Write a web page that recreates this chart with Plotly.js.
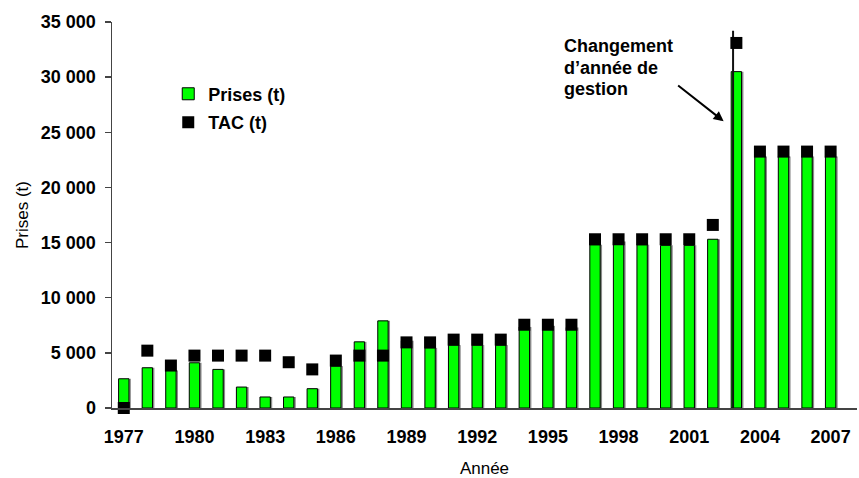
<!DOCTYPE html>
<html>
<head>
<meta charset="utf-8">
<script src="https://cdn.plot.ly/plotly-3.0.1.min.js"></script>
<style>html,body{margin:0;padding:0;background:#fff}#chart{width:859px;height:478px}</style>
</head>
<body>
<div id="chart"></div>
<script>
const years = [1977,1978,1979,1980,1981,1982,1983,1984,1985,1986,1987,1988,1989,1990,1991,1992,1993,1994,1995,1996,1997,1998,1999,2000,2001,2002,2003,2004,2005,2006,2007];
const prises = [2650,3650,3400,4100,3500,1900,1000,1000,1750,3800,6000,7900,6100,5450,5700,5700,5700,7350,7450,7300,14800,15100,14800,14750,14750,15300,30500,22800,22800,22800,22800];
const tac = [0,5200,3850,4750,4750,4750,4750,4150,3500,4300,4750,4750,5950,5950,6200,6200,6200,7550,7550,7550,15300,15300,15300,15300,15300,16600,33100,23250,23250,23250,23250];
const labelYears = [1977,1980,1983,1986,1989,1992,1995,1998,2001,2004,2007];
const changeYear = [2002.86, 2002.86];
const changeLevel = [0, 34200];
const seriesNames = ['Prises (t)', 'TAC (t)'];
const noteLines = ['Changement', 'd\u2019ann\u00e9e de', 'gestion'];
const noteLevels = [32824, 30856, 28889];

const FONT = 'Liberation Sans, Arial, sans-serif';
const xRange = [1976.5, 2008.12];
const yRange = [0, 35000];
const boundaries = years.map(y => y - 0.5).concat([years[years.length-1] + 0.5]);

const traces = [
  { type:'bar', x: years, y: prises, width: 0.44, offset: -0.14,
    marker:{color:'#8a8a8a', line:{width:0}}, showlegend:false, hoverinfo:'skip' },
  { type:'bar', x: years, y: prises, width: 0.44, offset: -0.22, name: seriesNames[0],
    legendgroup:'a', marker:{color:'#00ff00', line:{color:'#000', width:1}} },
  { type:'scatter', mode:'lines', x: changeYear, y: changeLevel, showlegend:false,
    line:{color:'#111', width:2}, hoverinfo:'skip' },
  { type:'scatter', mode:'markers', x: years, y: tac, name: seriesNames[1], legendgroup:'b',
    marker:{symbol:'square', size:12, color:'#000'}, cliponaxis:false }
];

const axisColor = '#444';
const noteFont = {family:FONT, size:18, weight:'bold', color:'#000'};
const annotations = noteLines.map((t, i) => ({
  x:1995.6, y:noteLevels[i], xref:'x', yref:'y', xanchor:'left', yanchor:'middle', align:'left',
  showarrow:false, text:t, font:noteFont
}));
annotations.push({x:2002.46, y:26000, xref:'x', yref:'y', ax:-47, ay:-37, axref:'pixel', ayref:'pixel', text:'',
     showarrow:true, arrowhead:2, arrowsize:1, arrowwidth:2, arrowcolor:'#000'});

const layout = {
  width: 859, height: 478,
  margin: {l:112, r:2, t:22, b:70},
  paper_bgcolor:'#fff', plot_bgcolor:'#fff',
  separators: ', ',
  barmode:'overlay',
  showlegend:true,
  font:{family:FONT, color:'#000'},
  legend:{x:0.0755, y:0.777, xanchor:'left', yanchor:'middle', traceorder:'grouped', tracegroupgap:2,
          font:{family:FONT, size:18, weight:'bold', color:'#000'}, bgcolor:'rgba(0,0,0,0)', itemwidth:30},
  xaxis:{range:xRange, tickmode:'array', tickvals:labelYears, ticktext:labelYears.map(String),
         ticks:'', showline:true, linecolor:axisColor, linewidth:1.5, showgrid:false, zeroline:false,
         tickfont:{family:FONT, size:18, weight:'bold', color:'#000'}, ticklabelstandoff:12,
         title:{text:'Ann\u00e9e', font:{family:FONT, size:17, color:'#000'}, standoff:17}, fixedrange:true},
  xaxis2:{overlaying:'x', anchor:'y', side:'bottom', range:xRange, tickmode:'array', tickvals:boundaries,
          ticks:'inside', ticklen:6, tickwidth:1.5, tickcolor:axisColor, showticklabels:false,
          showline:false, showgrid:false, zeroline:false, fixedrange:true},
  xaxis3:{overlaying:'x', anchor:'y', side:'bottom', range:xRange, tickmode:'array', tickvals:boundaries,
          ticks:'outside', ticklen:6, tickwidth:1.5, tickcolor:axisColor, showticklabels:false,
          showline:false, showgrid:false, zeroline:false, fixedrange:true},
  yaxis:{range:yRange, dtick:5000, tick0:0, tickformat:',', ticks:'outside', ticklen:6, tickwidth:1.5, tickcolor:axisColor,
         showline:true, linecolor:axisColor, linewidth:1.5, showgrid:false, zeroline:false,
         tickfont:{family:FONT, size:18, weight:'bold', color:'#000'}, ticklabelstandoff:5,
         title:{text:'Prises (t)', font:{family:FONT, size:17, color:'#000'}, standoff:8}, fixedrange:true},
  yaxis2:{overlaying:'y', anchor:'x', side:'left', range:yRange, dtick:5000, tick0:0,
          ticks:'inside', ticklen:6, tickwidth:1.5, tickcolor:axisColor, showticklabels:false,
          showline:false, showgrid:false, zeroline:false, fixedrange:true},
  annotations: annotations
};

Plotly.newPlot('chart', traces, layout, {staticPlot:true, displayModeBar:false});
</script>
</body>
</html>
